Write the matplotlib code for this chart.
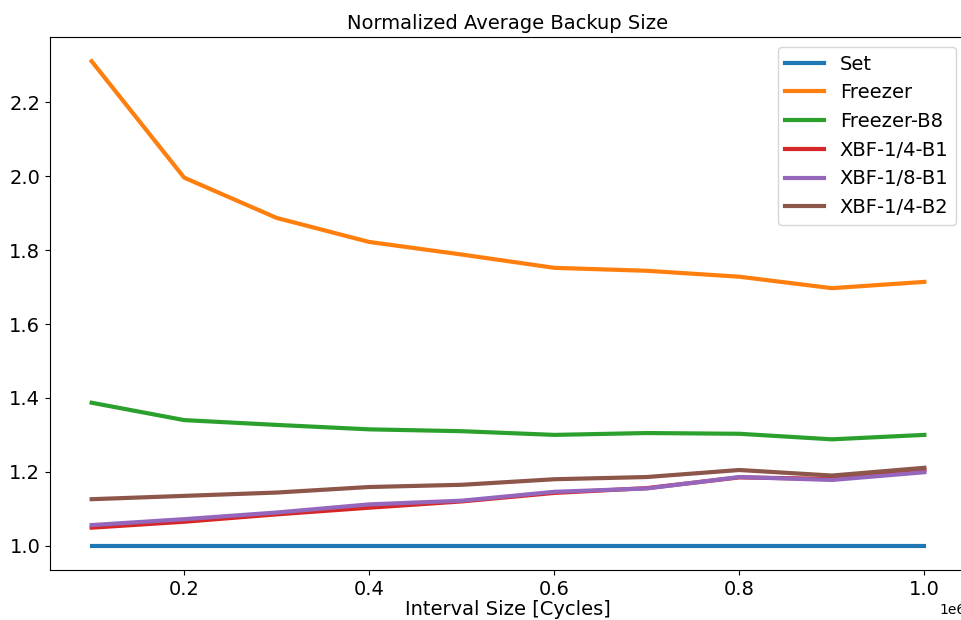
import matplotlib
matplotlib.use("Agg")
import matplotlib.pyplot as plt
import numpy as np

intervals = [100000, 200000, 300000, 400000, 500000, 600000, 700000, 800000, 900000, 1000000]
set_vals = [1.0, 1.0, 1.0, 1.0, 1.0, 1.0, 1.0, 1.0, 1.0, 1.0]
freezer = [2.311, 1.996, 1.887, 1.822, 1.788, 1.752, 1.744, 1.728, 1.697, 1.714]
freezer_b8 = [1.387, 1.340, 1.327, 1.315, 1.310, 1.300, 1.305, 1.303, 1.288, 1.300]
xbf_14_b1 = [1.049, 1.065, 1.085, 1.103, 1.120, 1.143, 1.156, 1.185, 1.181, 1.205]
xbf_18_b1 = [1.056, 1.072, 1.090, 1.112, 1.122, 1.146, 1.155, 1.186, 1.178, 1.199]
xbf_14_b2 = [1.126, 1.135, 1.144, 1.159, 1.165, 1.180, 1.186, 1.205, 1.190, 1.211]

series = [
    ("Set", set_vals),
    ("Freezer", freezer),
    ("Freezer-B8", freezer_b8),
    ("XBF-1/4-B1", xbf_14_b1),
    ("XBF-1/8-B1", xbf_18_b1),
    ("XBF-1/4-B2", xbf_14_b2),
]

fig = plt.figure(figsize=(9.61, 6.2), dpi=100)
ax = fig.add_axes([50/961, 1 - 570/620, 916/961, (570-37)/620])
for name, vals in series:
    ax.plot(intervals, vals, label=name, linewidth=3)

ax.set_title("Normalized Average Backup Size", fontsize=14)
ax.set_xlabel("Interval Size [Cycles]", fontsize=14, labelpad=1)
ax.tick_params(labelsize=14)
ax.legend(fontsize=14, loc="upper right")
fig.savefig("out.png", dpi=100)
